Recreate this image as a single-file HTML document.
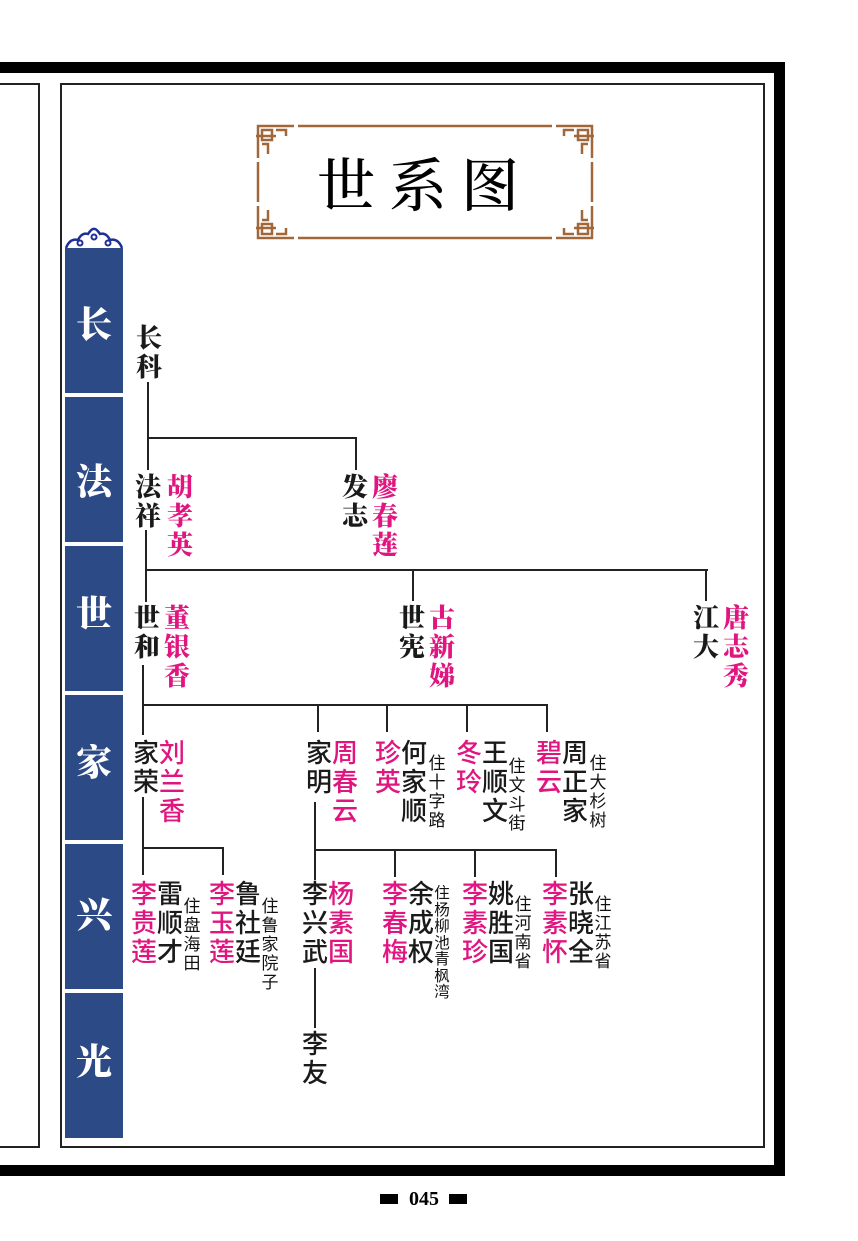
<!DOCTYPE html>
<html><head><meta charset="utf-8">
<style>
*{margin:0;padding:0;box-sizing:border-box}
body{width:858px;height:1241px;background:#fff;position:relative;overflow:hidden;font-family:"Liberation Serif","Noto Serif CJK SC",serif}
.a{position:absolute}
.n{position:absolute;font-size:26px;line-height:29px;width:28px;text-align:center;font-family:"Noto Serif CJK SC","Noto Sans CJK SC",serif;color:#1a1a1a}
.b{font-weight:900}
.p{color:#e0157f}
.r{font-weight:500;font-family:"Noto Sans CJK SC",sans-serif}
.s{position:absolute;font-size:17px;line-height:19px;width:20px;text-align:center;font-family:"Noto Sans CJK SC",sans-serif;color:#111}
.h{position:absolute;height:2px;background:#222}
.v{position:absolute;width:2px;background:#222}
.g{position:absolute;left:65px;width:58px;height:145px;background:#2c4a85;color:#fff;font-size:36px;font-weight:900;text-align:center;font-family:"Noto Serif CJK SC",serif}
</style></head><body>
<div class="a" style="left:0;top:62px;width:785px;height:11px;background:#000"></div>
<div class="a" style="left:774px;top:62px;width:11px;height:1114px;background:#000"></div>
<div class="a" style="left:0;top:1165px;width:785px;height:11px;background:#000"></div>
<div class="a" style="left:-2px;top:83px;width:42px;height:1065px;border:2px solid #222"></div>
<div class="a" style="left:60px;top:83px;width:705px;height:1065px;border:2px solid #222"></div>

<svg class="a" style="left:252px;top:122px" width="346" height="120" viewBox="0 0 346 120">
<g stroke="#a0683a" stroke-width="2.5" fill="none">
<line x1="46" y1="4" x2="300" y2="4"/><line x1="46" y1="116" x2="300" y2="116"/>
<line x1="6" y1="40" x2="6" y2="80"/><line x1="340" y1="40" x2="340" y2="80"/>
<path d="M6 36V4H42 M10 8h10v10h-10z M24 8h10v6 M10 22h6v10 M4 14h20"/>
<path d="M340 36V4H304 M336 8h-10v10h10z M322 8h-10v6 M336 22h-6v10 M342 14h-20"/>
<path d="M6 84V116H42 M10 112h10v-10h-10z M24 112h10v-6 M10 98h6v-10 M4 106h20"/>
<path d="M340 84V116H304 M336 112h-10v-10h10z M322 112h-10v-6 M336 98h-6v-10 M342 106h-20"/>
</g></svg>
<div class="a" style="left:300px;top:146px;width:250px;text-align:center;font-size:58px;line-height:70px;letter-spacing:14px;font-family:'Noto Serif CJK SC',serif;font-weight:500;color:#000">世系图</div>

<svg class="a" style="left:64px;top:226px" width="60" height="24" viewBox="0 0 60 24">
<path d="M2 22 Q6 12 14 14 Q18 6 24 8 Q28 2 30 3 Q32 2 36 8 Q42 6 46 14 Q54 12 58 22" fill="none" stroke="#1f2f99" stroke-width="2.5"/>
<circle cx="16" cy="17" r="2.5" fill="none" stroke="#1f2f99" stroke-width="2"/><circle cx="44" cy="17" r="2.5" fill="none" stroke="#1f2f99" stroke-width="2"/><circle cx="30" cy="11" r="2.5" fill="none" stroke="#1f2f99" stroke-width="2"/>
</svg>
<div class="g" style="top:248px;line-height:150px">长</div>
<div class="g" style="top:397px;line-height:166px">法</div>
<div class="g" style="top:546px;line-height:132px">世</div>
<div class="g" style="top:695px;line-height:132px">家</div>
<div class="g" style="top:844px;line-height:138px">兴</div>
<div class="g" style="top:993px;line-height:134px">光</div>

<div class="v" style="left:147px;top:382px;height:88px"></div>
<div class="h" style="left:147px;top:437px;width:210px"></div>
<div class="v" style="left:355px;top:437px;height:33px"></div>

<div class="v" style="left:145px;top:530px;height:72px"></div>
<div class="h" style="left:145px;top:569px;width:563px"></div>
<div class="v" style="left:412px;top:569px;height:32px"></div>
<div class="v" style="left:705px;top:569px;height:32px"></div>

<div class="v" style="left:142px;top:665px;height:70px"></div>
<div class="h" style="left:142px;top:704px;width:406px"></div>
<div class="v" style="left:317px;top:704px;height:28px"></div>
<div class="v" style="left:386px;top:704px;height:28px"></div>
<div class="v" style="left:466px;top:704px;height:28px"></div>
<div class="v" style="left:546px;top:704px;height:28px"></div>

<div class="v" style="left:142px;top:797px;height:78px"></div>
<div class="h" style="left:142px;top:847px;width:82px"></div>
<div class="v" style="left:222px;top:847px;height:28px"></div>

<div class="v" style="left:314px;top:802px;height:78px"></div>
<div class="h" style="left:314px;top:849px;width:243px"></div>
<div class="v" style="left:394px;top:849px;height:28px"></div>
<div class="v" style="left:474px;top:849px;height:28px"></div>
<div class="v" style="left:555px;top:849px;height:28px"></div>
<div class="v" style="left:314px;top:968px;height:60px"></div>

<div class="n b" style="left:135px;top:322px">长<br>科</div>
<div class="n b" style="left:134px;top:471px">法<br>祥</div>
<div class="n b p" style="left:166px;top:471px">胡<br>孝<br>英</div>
<div class="n b" style="left:341px;top:471px">发<br>志</div>
<div class="n b p" style="left:371px;top:471px">廖<br>春<br>莲</div>
<div class="n b" style="left:133px;top:602px">世<br>和</div>
<div class="n b p" style="left:163px;top:602px">董<br>银<br>香</div>
<div class="n b" style="left:398px;top:602px">世<br>宪</div>
<div class="n b p" style="left:428px;top:602px">古<br>新<br>娣</div>
<div class="n b" style="left:692px;top:602px">江<br>大</div>
<div class="n b p" style="left:722px;top:602px">唐<br>志<br>秀</div>
<div class="n r" style="left:132px;top:737px">家<br>荣</div>
<div class="n r p" style="left:158px;top:737px">刘<br>兰<br>香</div>
<div class="n r" style="left:305px;top:737px">家<br>明</div>
<div class="n r p" style="left:331px;top:737px">周<br>春<br>云</div>
<div class="n r p" style="left:374px;top:737px">珍<br>英</div>
<div class="n r" style="left:400px;top:737px">何<br>家<br>顺</div>
<div class="s" style="left:427px;top:752px">住<br>十<br>字<br>路</div>
<div class="n r p" style="left:455px;top:737px">冬<br>玲</div>
<div class="n r" style="left:481px;top:737px">王<br>顺<br>文</div>
<div class="s" style="left:507px;top:755px">住<br>文<br>斗<br>街</div>
<div class="n r p" style="left:535px;top:737px">碧<br>云</div>
<div class="n r" style="left:561px;top:737px">周<br>正<br>家</div>
<div class="s" style="left:588px;top:752px">住<br>大<br>杉<br>树</div>
<div class="n r p" style="left:130px;top:878px">李<br>贵<br>莲</div>
<div class="n r" style="left:156px;top:878px">雷<br>顺<br>才</div>
<div class="s" style="left:182px;top:895px">住<br>盘<br>海<br>田</div>
<div class="n r p" style="left:208px;top:878px">李<br>玉<br>莲</div>
<div class="n r" style="left:234px;top:878px">鲁<br>社<br>廷</div>
<div class="s" style="left:260px;top:895px">住<br>鲁<br>家<br>院<br>子</div>
<div class="n r" style="left:301px;top:878px">李<br>兴<br>武</div>
<div class="n r p" style="left:327px;top:878px">杨<br>素<br>国</div>
<div class="n r p" style="left:381px;top:878px">李<br>春<br>梅</div>
<div class="n r" style="left:407px;top:878px">余<br>成<br>权</div>
<div class="s" style="left:432px;top:884px;font-size:15.5px;line-height:16.5px">住<br>杨<br>柳<br>池<br>青<br>枫<br>湾</div>
<div class="n r p" style="left:461px;top:878px">李<br>素<br>珍</div>
<div class="n r" style="left:487px;top:878px">姚<br>胜<br>国</div>
<div class="s" style="left:513px;top:893px">住<br>河<br>南<br>省</div>
<div class="n r p" style="left:541px;top:878px">李<br>素<br>怀</div>
<div class="n r" style="left:567px;top:878px">张<br>晓<br>全</div>
<div class="s" style="left:593px;top:893px">住<br>江<br>苏<br>省</div>
<div class="n r" style="left:301px;top:1028px">李<br>友</div>

<div class="a" style="left:380px;top:1194px;width:18px;height:10px;background:#000"></div>
<div class="a" style="left:402px;top:1186px;width:44px;text-align:center;font-size:20px;line-height:26px;font-weight:bold;font-family:'Liberation Serif',serif">045</div>
<div class="a" style="left:449px;top:1194px;width:18px;height:10px;background:#000"></div>
</body></html>
